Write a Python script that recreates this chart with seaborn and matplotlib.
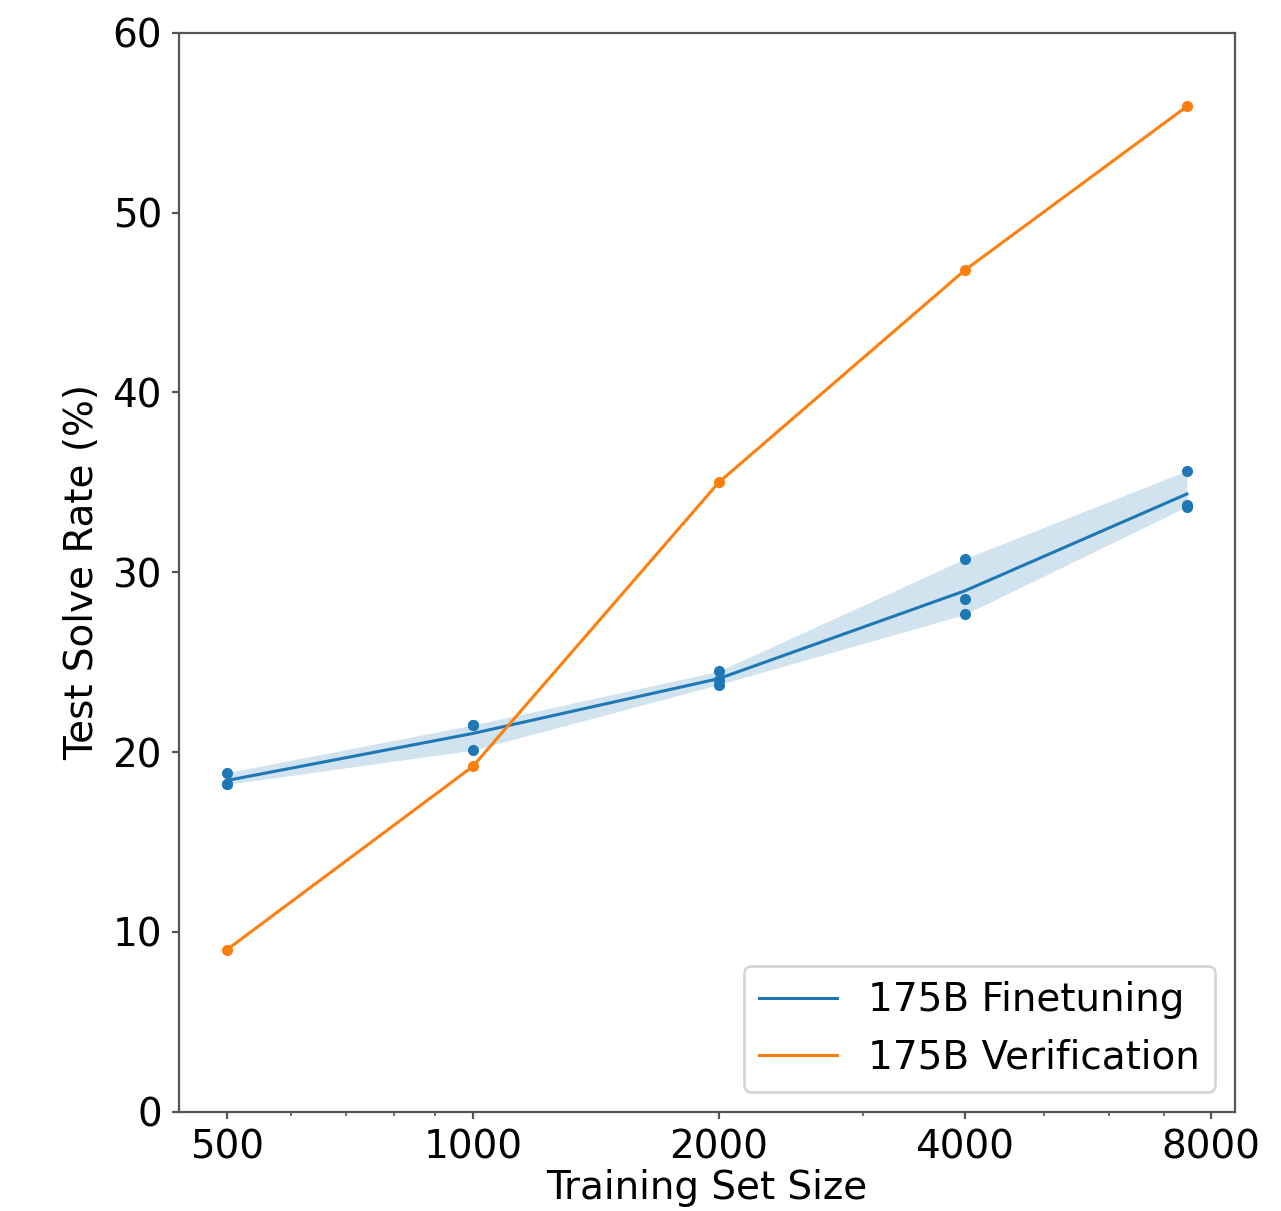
import numpy as np
import pandas as pd
import seaborn as sns
from matplotlib import pyplot as plt
from matplotlib.ticker import FixedLocator, FixedFormatter, NullFormatter

# Training set sizes (x values)
sizes = [500, 1000, 2000, 4000, 7473]

# 175B finetuning: three runs per size
finetune_run1 = [18.85, 21.5, 24.5, 30.75, 35.65]
finetune_run2 = [18.2, 21.5, 24.0, 28.5, 33.75]
finetune_run3 = [18.2, 20.1, 23.75, 27.65, 33.65]

# 175B verification
verification = [9.0, 19.2, 35.0, 46.8, 55.9]

x_ticks = [500, 1000, 2000, 4000, 8000]
x_tick_labels = ["500", "1000", "2000", "4000", "8000"]
y_ticks = [0, 10, 20, 30, 40, 50, 60]

# Long format for seaborn
finetune = pd.DataFrame({
    "size": sizes * 3,
    "rate": finetune_run1 + finetune_run2 + finetune_run3,
})
verif = pd.DataFrame({"size": sizes, "rate": verification})

plt.rcParams["font.size"] = 14
plt.rcParams["axes.edgecolor"] = "#555555"
plt.rcParams["xtick.color"] = "#555555"
plt.rcParams["ytick.color"] = "#555555"
plt.rcParams["xtick.labelcolor"] = "black"
plt.rcParams["ytick.labelcolor"] = "black"

fig = plt.figure(figsize=(6.405, 6.055), dpi=200)
ax = fig.add_axes([0.1395, 0.082, 0.8245, 0.891])

blue = "#1f77b4"
orange = "#ff7f0e"

sns.lineplot(data=finetune, x="size", y="rate", color=blue, errorbar=("ci", 95),
             seed=0, linewidth=1.1, err_kws={"linewidth": 0},
             label="175B Finetuning", ax=ax)
sns.scatterplot(data=finetune, x="size", y="rate", color=blue, s=16,
                linewidth=0, legend=False, ax=ax)
sns.lineplot(data=verif, x="size", y="rate", color=orange, errorbar=None,
             linewidth=1.1, label="175B Verification", ax=ax)
sns.scatterplot(data=verif, x="size", y="rate", color=orange, s=16,
                linewidth=0, legend=False, ax=ax)

ax.set_xscale("log")
ax.xaxis.set_major_locator(FixedLocator(x_ticks))
ax.xaxis.set_major_formatter(FixedFormatter(x_tick_labels))
ax.xaxis.set_minor_formatter(NullFormatter())
ax.set_yticks(y_ticks)
ax.set_ylim(0, 60)
ax.tick_params(which="major", length=2.5, width=0.8)
ax.tick_params(which="minor", length=1.5, width=0.6)

ax.set_xlabel("Training Set Size", labelpad=1)
ax.set_ylabel("Test Solve Rate (%)")
ax.legend(loc="lower right")

fig.savefig("out.png", dpi=200)
